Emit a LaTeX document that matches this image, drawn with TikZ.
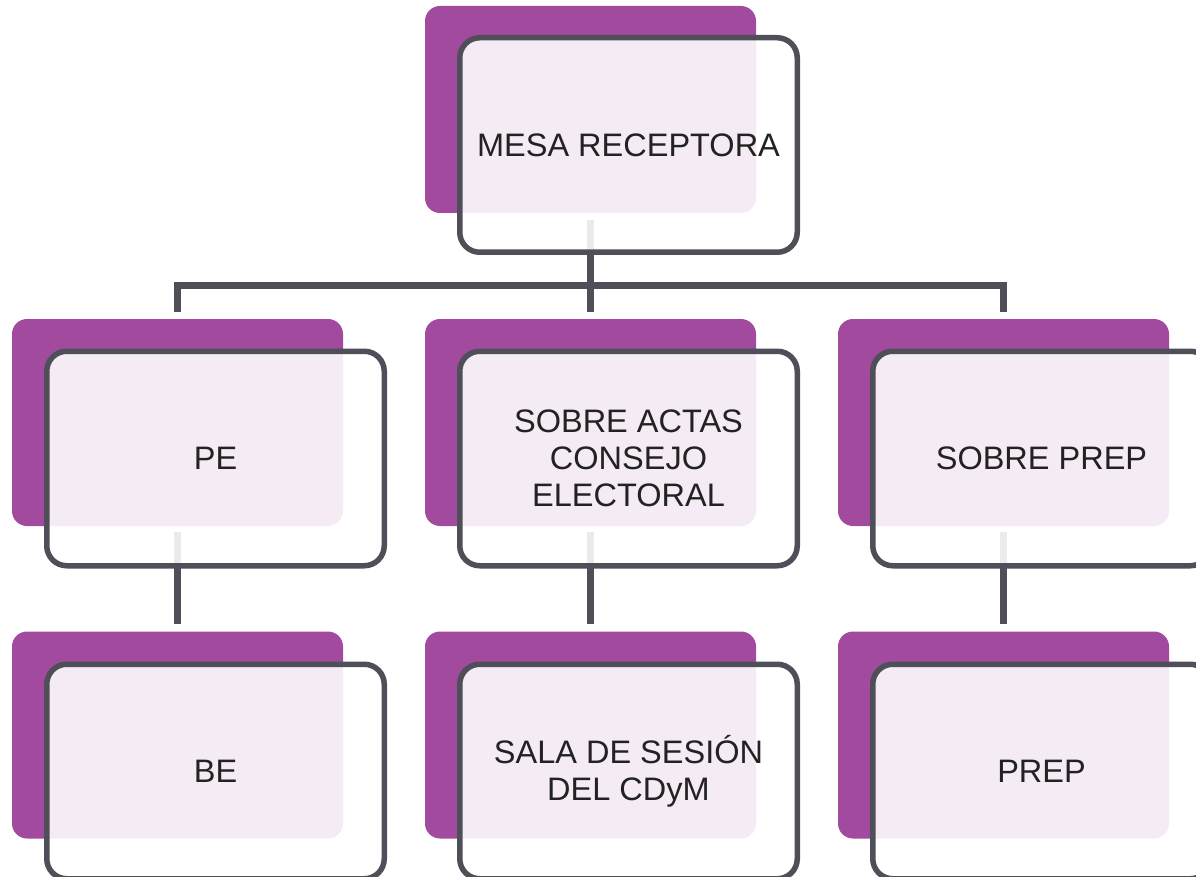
\documentclass[tikz,border=0pt]{standalone}
\usepackage{fontspec}
\setmainfont{Liberation Sans}
\definecolor{purp}{HTML}{A24A9E}
\definecolor{edgec}{HTML}{4F4F59}
\definecolor{txt}{HTML}{222222}
\pgfdeclarelayer{bg}
\pgfsetlayers{bg,main}
\begin{document}
\begin{tikzpicture}[x=1pt,y=-1pt,
  back/.style={fill=purp, rounded corners=15pt, minimum width=331pt, minimum height=207pt, inner sep=0pt, draw=none},
  front/.style={draw=edgec, line width=5.5pt, fill=white, fill opacity=0.89, text opacity=1, rounded corners=20pt,
    minimum width=337.5pt, minimum height=214.5pt, inner sep=0pt, align=center, text=txt,
    font=\fontsize{32.5}{37}\selectfont},
  link/.style={draw=edgec, line width=7pt}]
\useasboundingbox (0,0) rectangle (1196,877);
\clip (0,0) rectangle (1196,877);
% back plates
\node[back] (tb) at (590.5,109.5) {};
\node[back] (lb) at (177.5,422.5) {};
\node[back] (mb) at (590.5,422.5) {};
\node[back] (rb) at (1003.5,422.5) {};
\node[back] (l3b) at (177.5,735) {};
\node[back] (m3b) at (590.5,735) {};
\node[back] (r3b) at (1003.5,735) {};
% front boxes
\node[front] (t) at (628.5,145) {MESA RECEPTORA};
\node[front] (l) at (215.5,458.5) {PE};
\node[front] (m) at (628.5,458.5) {SOBRE ACTAS\\CONSEJO\\ELECTORAL};
\node[front] (r) at (1041.5,458.5) {SOBRE PREP};
\node[front] (l3) at (215.5,771.5) {BE};
\node[front] (m3) at (628.5,771.5) {SALA DE SESIÓN\\DEL CDyM};
\node[front] (r3) at (1041.5,771.5) {PREP};
\coordinate (bar) at (590.5,285);
\begin{pgfonlayer}{bg}
\draw[link] ([yshift=-7pt]tb.south) -- (tb.south |- bar);
\draw[link] ([yshift=7pt]lb.north) -- (lb.north |- bar) -- (rb.north |- bar) -- ([yshift=7pt]rb.north);
\draw[link] (mb.north |- bar) -- ([yshift=7pt]mb.north);
\draw[link] ([yshift=-6pt]lb.south) -- ([yshift=7pt]l3b.north);
\draw[link] ([yshift=-6pt]mb.south) -- ([yshift=7pt]m3b.north);
\draw[link] ([yshift=-6pt]rb.south) -- ([yshift=7pt]r3b.north);
\end{pgfonlayer}
\end{tikzpicture}
\end{document}
